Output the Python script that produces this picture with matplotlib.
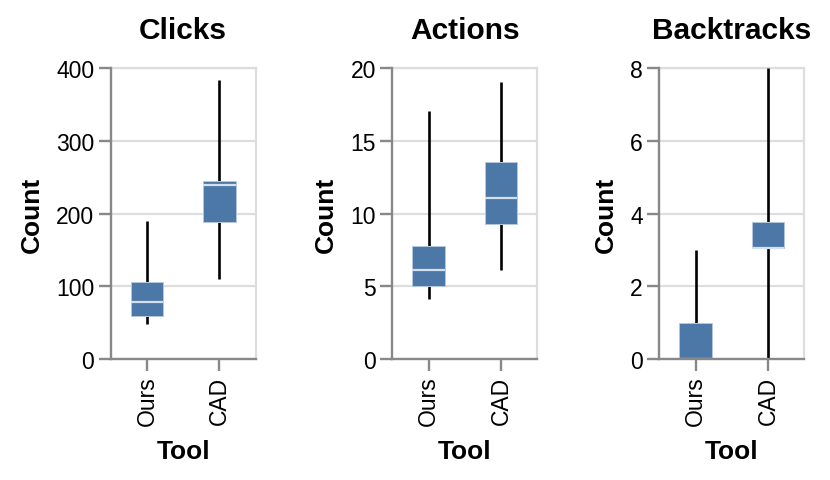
import matplotlib
matplotlib.use("Agg")
import matplotlib.pyplot as plt

plt.rcParams['font.family'] = ['Liberation Sans', 'DejaVu Sans']

tools = ["Ours", "CAD"]
metrics = ["Clicks", "Actions", "Backtracks"]

# five-number summaries per tool: min, q1, median, q3, max
clicks_ours = [48, 59, 78, 106, 190]
clicks_cad = [110, 188, 239, 245, 384]
actions_ours = [4.1, 5.05, 6.1, 7.8, 17.05]
actions_cad = [6.1, 9.3, 11.1, 13.55, 19.05]
backtracks_ours = [0, 0, 0, 1, 3]
backtracks_cad = [0, 3.05, 3.05, 3.78, 8]

summaries = [[clicks_ours, clicks_cad],
             [actions_ours, actions_cad],
             [backtracks_ours, backtracks_cad]]
yticks = [[0, 100, 200, 300, 400], [0, 5, 10, 15, 20], [0, 2, 4, 6, 8]]

BOX = "#4c78a8"
DOMAIN = "#888888"
GRID = "#dddddd"

W, H = 830, 481
fig = plt.figure(figsize=(W / 100, H / 100), dpi=100)
lefts = [110.7, 392.3, 659.3]
pw, top, bottom = 145, 69.3, 360

for k, name in enumerate(metrics):
    ax = fig.add_axes([lefts[k] / W, (H - bottom) / H, pw / W, (bottom - top) / H])
    ticks = yticks[k]
    for i, s in enumerate(summaries[k]):
        lo, q1, med, q3, hi = s
        ax.vlines(i, lo, q1, color="black", lw=1.9, zorder=3)
        ax.vlines(i, q3, hi, color="black", lw=1.9, zorder=3)
        ax.bar(i, q3 - q1, bottom=q1, width=0.45, color=BOX,
               edgecolor="#b4c7de", lw=0.7, zorder=4)
        ax.hlines(med, i - 0.225, i + 0.225, color="#d6e0ec", lw=1.6, zorder=5)

    ax.set_xlim(-0.5, 1.5)
    ax.set_ylim(ticks[0], ticks[-1])
    ax.set_yticks(ticks)
    ax.set_xticks(range(len(tools)))
    ax.set_xticklabels(tools, rotation=90, va="top", ha="center")
    ax.yaxis.grid(True, color=GRID, lw=1.6, zorder=0)
    ax.set_axisbelow(True)

    for sp in ["left", "bottom"]:
        ax.spines[sp].set_color(DOMAIN)
        ax.spines[sp].set_linewidth(1.7)
        ax.spines[sp].set_zorder(6)
    for sp in ["top", "right"]:
        ax.spines[sp].set_color(GRID)
        ax.spines[sp].set_linewidth(1.6)
    ax.tick_params(axis="both", colors=DOMAIN, length=8.3, width=1.7,
                   labelsize=16.5, labelcolor="black", pad=3.5)

    ax.set_ylabel("Count", fontsize=19, fontweight="bold", labelpad=9)
    ax.set_xlabel("Tool", fontsize=19, fontweight="bold", labelpad=10)
    ax.set_title(name, fontsize=21.5, fontweight="bold", pad=22)

fig.savefig("out.png", dpi=100)
